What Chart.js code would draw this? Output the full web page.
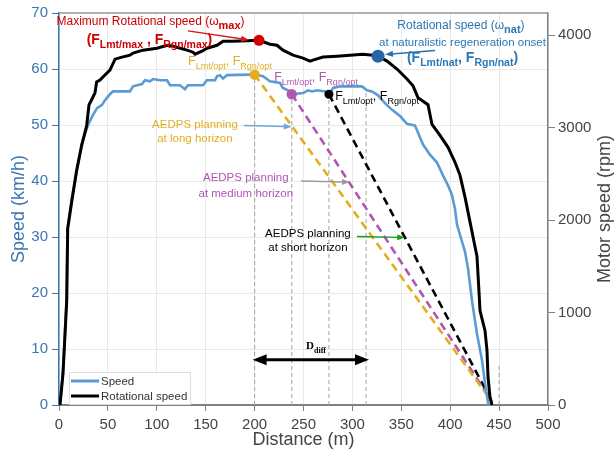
<!DOCTYPE html>
<html>
<head>
<meta charset="utf-8">
<script src="https://cdn.jsdelivr.net/npm/chart.js@4.4.0/dist/chart.umd.min.js"></script>
<style>
  html, body { margin: 0; padding: 0; background: #fff; }
  canvas { display: block; }
</style>
</head>
<body>
<canvas id="chart" width="616" height="456" style="width:616px;height:456px"></canvas>
<script>
// Vehicle speed (km/h) against distance (m)
const speedDist = [1, 4, 7.7, 8.7, 13.3, 18.4, 23.5, 29.7, 34.8, 38.9, 44, 47, 52.1, 55.2, 72.6, 75.7, 84.9, 87.9, 93, 96.1,
  103.3, 110.4, 113.5, 123.7, 128.8, 131.9, 147.2, 151.3, 159.5, 161.6, 164.6, 167.7, 171.8, 195.3, 200.4, 208.6, 215.7, 226, 229, 236.2,
  239.3, 249.5, 254.6, 258.7, 263.8, 272, 277.1, 280.2, 287.3, 309.8, 314.9, 320, 326.2, 333.3, 340.5, 348.7, 355.8, 364, 367.1, 372.2,
  379.3, 386.5, 392.6, 397.8, 401.8, 404.9, 407, 410, 415.1, 418.2, 422.3, 427.4, 432.5, 435.6, 438.7, 439.7];
const speedKmh = [0, 5.7, 18.6, 31.5, 37.1, 41.9, 46.8, 50, 51.8, 53, 53.6, 54.4, 55.5, 56, 56, 56.9, 57.3, 58, 57.8, 58.2,
  58, 58, 57.1, 57.1, 56.4, 57.1, 57.1, 58, 58, 58.7, 58.9, 58.3, 58.9, 59, 59, 58.7, 57.8, 57.5, 56.6, 56,
  55.5, 55.7, 56.2, 56, 56.2, 56, 55.7, 56.6, 56.9, 56.9, 56.2, 56, 55.3, 53.9, 52.7, 51.6, 50.2, 49.9, 48.6, 46.5,
  44.7, 43.3, 41, 39.2, 37.5, 35, 32.2, 30.4, 27.4, 24.4, 18.6, 12.7, 8, 3.9, 0.4, 0];

// Motor rotational speed (rpm) against distance (m)
const rotDist = [1, 4.1, 7.9, 8.9, 13, 18.1, 23.2, 28.3, 30.7, 33.4, 36.8, 38.5, 41.9, 47, 52.1, 57.3, 64.4, 72.6, 75.7, 85.9,
  100.2, 110.4, 116.6, 130.9, 137, 139.1, 146.2, 151.3, 161.6, 167.7, 177.9, 192.2, 204.5, 215.7, 222.9, 229, 239.3, 249.5, 256.6, 259.7,
  269.9, 284.3, 297.5, 310.8, 321.1, 326.2, 335.4, 345.6, 355.8, 362, 367.1, 377.3, 381.4, 389.6, 397.8, 404.9, 410, 415.1, 420.2, 424.3,
  427.4, 429.4, 430.5, 435.6, 437.6, 438.7, 440.7, 442.7];
const rotRpm = [0, 343, 1126, 1908, 2198, 2541, 2809, 3023, 3248, 3302, 3377, 3495, 3516, 3570, 3623, 3741, 3763, 3784, 3806, 3838,
  3859, 3891, 3881, 3838, 3816, 3795, 3827, 3859, 3891, 3934, 3934, 3940, 3945, 3902, 3891, 3838, 3784, 3752, 3720, 3731,
  3763, 3773, 3784, 3795, 3784, 3773, 3720, 3634, 3527, 3452, 3323, 3248, 3034, 2916, 2787, 2626, 2487, 2251, 1983, 1769,
  1608, 1233, 1018, 804, 590, 300, 86, 0];

// AEDPS planning lines: start (long, medium, short horizon) and common end point
const planNames = ['long', 'medium', 'short'];
const planStartDist = [200, 238, 276];
const planStartSpeed = [59, 55.5, 55.5];
const planEnd = [443, 0.5];

// marked points
const maxRotPoint = [204.5, 3945];
const natRotPoint = [326.2, 3773];
const guideDist = [200, 238, 276, 314, 450];
const guideTop = [59, 55.5, 55.5, 56, 7];
const dDiff = [198, 317, 8.1];

const xTicks = { min: 0, max: 500, step: 50 };
const yTicks = { min: 0, max: 70, step: 10 };
const rpmTickValues = [0, 1000, 2000, 3000, 4000];
const rpmMax = 4240;

const planColors = ['#e2ad1f', '#b056b3', '#000000'];
const blue = '#5b9bd5';
const axisBlue = '#3a76b2';
const FONT = "'Liberation Sans', Arial, Helvetica, sans-serif";

const pts = (xs, ys) => xs.map((x, i) => ({ x: x, y: ys[i] }));

const datasets = [];
datasets.push({ label: 'maxdot', data: [{ x: maxRotPoint[0], y: maxRotPoint[1] }], yAxisID: 'y1', showLine: false,
  pointRadius: 5.5, pointBackgroundColor: '#d40000', pointBorderWidth: 0, order: 0 });
datasets.push({ label: 'natdot', data: [{ x: natRotPoint[0], y: natRotPoint[1] }], yAxisID: 'y1', showLine: false,
  pointRadius: 6.5, pointBackgroundColor: '#2766a6', pointBorderWidth: 0, order: 0 });
planNames.forEach((n, i) => {
  datasets.push({ label: n + 'dot', data: [{ x: planStartDist[i], y: planStartSpeed[i] }], yAxisID: 'y', showLine: false,
    pointRadius: i === 2 ? 4.5 : 5.2, pointBackgroundColor: planColors[i], pointBorderWidth: 0, order: 0 });
});
datasets.push({ label: 'Rotational speed', data: pts(rotDist, rotRpm), yAxisID: 'y1', borderColor: '#000', borderWidth: 3,
  pointRadius: 0, tension: 0, order: 1, legend: true });
datasets.push({ label: 'Speed', data: pts(speedDist, speedKmh), yAxisID: 'y', borderColor: blue, borderWidth: 2.6,
  pointRadius: 0, tension: 0, order: 2, legend: true });
planNames.forEach((n, i) => {
  datasets.push({ label: 'plan ' + n, data: [{ x: planStartDist[i], y: planStartSpeed[i] }, { x: planEnd[0], y: planEnd[1] }],
    yAxisID: 'y', borderColor: planColors[i], borderWidth: 2.6, borderDash: [8, 5], pointRadius: 0, order: 3 });
});
guideDist.forEach((d, i) => {
  datasets.push({ label: 'guide', data: [{ x: d, y: 0 }, { x: d, y: guideTop[i] }], yAxisID: 'y',
    borderColor: '#aaaaaa', borderWidth: 1.1, borderDash: [4, 3], pointRadius: 0, order: 4 });
});

// rich text: segments [text, size, bold, sub]
function rich(ctx, segs, cx, cy, color, fam) {
  const f = s => (s[2] ? 'bold ' : '') + s[1] + 'px ' + (fam || FONT);
  let w = 0;
  segs.forEach(s => { ctx.font = f(s); w += ctx.measureText(s[0]).width; });
  let x = cx - w / 2;
  const base = cy + segs[0][1] * 0.36;
  ctx.fillStyle = color;
  ctx.textAlign = 'left';
  ctx.textBaseline = 'alphabetic';
  segs.forEach(s => {
    ctx.font = f(s);
    ctx.fillText(s[0], x, base + (s[3] ? segs[0][1] * 0.32 : 0));
    x += ctx.measureText(s[0]).width;
  });
}

function arrow(ctx, x1, y1, x2, y2, color, lw, hl, hw, both) {
  const a = Math.atan2(y2 - y1, x2 - x1);
  const head = (x, y, ang) => {
    ctx.beginPath();
    ctx.moveTo(x, y);
    ctx.lineTo(x - hl * Math.cos(ang) + hw * Math.sin(ang), y - hl * Math.sin(ang) - hw * Math.cos(ang));
    ctx.lineTo(x - hl * Math.cos(ang) - hw * Math.sin(ang), y - hl * Math.sin(ang) + hw * Math.cos(ang));
    ctx.closePath();
    ctx.fill();
  };
  ctx.strokeStyle = color; ctx.fillStyle = color; ctx.lineWidth = lw; ctx.setLineDash([]);
  ctx.beginPath();
  ctx.moveTo(both ? x1 + hl * 0.8 * Math.cos(a) : x1, both ? y1 + hl * 0.8 * Math.sin(a) : y1);
  ctx.lineTo(x2 - hl * 0.8 * Math.cos(a), y2 - hl * 0.8 * Math.sin(a));
  ctx.stroke();
  head(x2, y2, a);
  if (both) head(x1, y1, a + Math.PI);
}

const Fopt = () => [['F', 12.5], ['Lmt/opt', 9, false, 1], [', F', 12.5], ['Rgn/opt', 9, false, 1]];

const notes = {
  id: 'notes',
  afterDatasetsDraw(chart) {
    const { ctx, chartArea: ca, scales } = chart;
    const X = v => scales.x.getPixelForValue(v);
    const Y = v => scales.y.getPixelForValue(v);
    ctx.save();

    // top frame
    ctx.strokeStyle = '#9a9a9a'; ctx.lineWidth = 1.5;
    ctx.beginPath(); ctx.moveTo(ca.left, ca.top); ctx.lineTo(ca.right, ca.top); ctx.stroke();

    // right axis title (reads bottom to top)
    ctx.save();
    ctx.translate(605, (ca.top + ca.bottom) / 2);
    ctx.rotate(-Math.PI / 2);
    ctx.fillStyle = '#444'; ctx.font = '18px ' + FONT; ctx.textAlign = 'center'; ctx.textBaseline = 'middle';
    ctx.fillText('Motor speed (rpm)', 0, 0);
    ctx.restore();

    // red annotation
    rich(ctx, [['Maximum Rotational speed (ω', 12], ['max', 11, true, 1], [')', 12]], X(93.6), Y(68.6), '#cc0000');
    rich(ctx, [['(F', 14, true], ['Lmt/max', 10.5, true, 1], [' , F', 14, true], ['Rgn/max', 10.5, true, 1], [')', 14, true]],
      X(92.5), Y(65.4), '#cc0000');
    arrow(ctx, X(131.9), Y(66.8), X(194.3), Y(65.2), '#d41a1a', 1.4, 8, 3);

    // blue annotation
    rich(ctx, [['Rotational speed (ω', 12], ['nat', 11, true, 1], [')', 12]], X(411), Y(67.9), '#2a78b6');
    rich(ctx, [['at naturalistic regeneration onset', 11.5]], X(412.6), Y(64.9), '#2a78b6');
    rich(ctx, [['(F', 14, true], ['Lmt/nat', 10.5, true, 1], [', F', 14, true], ['Rgn/nat', 10.5, true, 1], [')', 14, true]],
      X(412.6), Y(62.2), '#2a78b6');
    arrow(ctx, X(384.5), Y(63.3), X(333.3), Y(62.6), '#2a6fb0', 1.4, 8, 3);

    // F labels at planning start points
    rich(ctx, Fopt(), X(174.8), Y(61.5), planColors[0]);
    rich(ctx, Fopt(), X(262.8), Y(58.7), planColors[1]);
    rich(ctx, Fopt(), X(325.2), Y(55.2), '#000');

    // planning horizon labels
    rich(ctx, [['AEDPS planning', 11.5]], X(139), Y(50.2), planColors[0]);
    rich(ctx, [['at long horizon', 11.5]], X(139), Y(47.7), planColors[0]);
    arrow(ctx, X(189), Y(49.9), X(238), Y(49.7), '#6ea6d8', 1.4, 8, 3);
    rich(ctx, [['AEDPS planning', 11.5]], X(191), Y(40.8), planColors[1]);
    rich(ctx, [['at medium horizon', 11.5]], X(191), Y(37.8), planColors[1]);
    arrow(ctx, X(247.5), Y(40), X(297.5), Y(39.8), '#9b9b9b', 1.4, 8, 3);
    rich(ctx, [['AEDPS planning', 11.5]], X(254.5), Y(30.8), '#000');
    rich(ctx, [['at short horizon', 11.5]], X(254.5), Y(28.3), '#000');
    arrow(ctx, X(304.7), Y(30.1), X(354), Y(29.9), '#1a9a1a', 1.4, 8, 3);

    // D_diff
    arrow(ctx, X(dDiff[0]), Y(dDiff[2]), X(dDiff[1]), Y(dDiff[2]), '#000', 3, 14, 5.5, true);
    rich(ctx, [['D', 11, true], ['diff', 8, true, 1]], X(262.8), Y(10.7), '#000', "'Liberation Serif', 'Times New Roman', serif");

    // legend
    const lx = 69, ly = 372, lw = 121, lh = 32;
    ctx.fillStyle = '#fff'; ctx.fillRect(lx, ly, lw, lh);
    ctx.strokeStyle = '#dddddd'; ctx.lineWidth = 1; ctx.strokeRect(lx + 0.5, ly + 0.5, lw, lh);
    const items = chart.data.datasets.filter(d => d.legend).reverse();
    items.forEach((d, i) => {
      const yy = ly + 9 + i * 15;
      ctx.strokeStyle = d.borderColor; ctx.lineWidth = 3;
      ctx.beginPath(); ctx.moveTo(lx + 2, yy); ctx.lineTo(lx + 30, yy); ctx.stroke();
      ctx.fillStyle = '#333'; ctx.font = '11.5px ' + FONT; ctx.textBaseline = 'middle'; ctx.textAlign = 'left';
      ctx.fillText(d.label, lx + 32, yy + 0.5);
    });
    ctx.restore();
  }
};

new Chart(document.getElementById('chart'), {
  type: 'line',
  data: { datasets: datasets },
  options: {
    responsive: false,
    animation: false,
    layout: { padding: { top: 9, right: 0, left: 0, bottom: 0 } },
    plugins: { legend: { display: false }, tooltip: { enabled: false } },
    scales: {
      x: {
        type: 'linear', min: xTicks.min, max: xTicks.max,
        ticks: { stepSize: xTicks.step, color: '#444', font: { size: 15, family: FONT }, padding: 5 },
        grid: { color: '#e8e8e8', tickColor: '#808080', tickLength: 6 },
        border: { color: '#808080', width: 2 },
        title: { display: true, text: 'Distance (m)', color: '#444', font: { size: 18, family: FONT }, padding: { bottom: 5, top: 0 } },
        afterFit: s => { s.height = 51; }
      },
      y: {
        position: 'left', min: yTicks.min, max: yTicks.max,
        ticks: { stepSize: yTicks.step, color: axisBlue, font: { size: 15, family: FONT }, padding: 4 },
        grid: { color: '#e8e8e8', tickColor: axisBlue, tickLength: 7 },
        border: { color: axisBlue, width: 1.5 },
        title: { display: true, text: 'Speed (km/h)', color: axisBlue, font: { size: 18, family: FONT }, padding: { top: 8, bottom: 0 } },
        afterFit: s => { s.width = 59; }
      },
      y1: {
        position: 'right', min: 0, max: rpmMax,
        afterBuildTicks: s => { s.ticks = rpmTickValues.map(v => ({ value: v })); },
        ticks: { color: '#444', font: { size: 15, family: FONT }, padding: 3, autoSkip: false, callback: v => String(v) },
        grid: { drawOnChartArea: false, tickColor: '#808080', tickLength: 7 },
        border: { color: '#808080', width: 1.5 },
        afterFit: s => { s.width = 68; }
      }
    }
  },
  plugins: [notes]
});
</script>
</body>
</html>
